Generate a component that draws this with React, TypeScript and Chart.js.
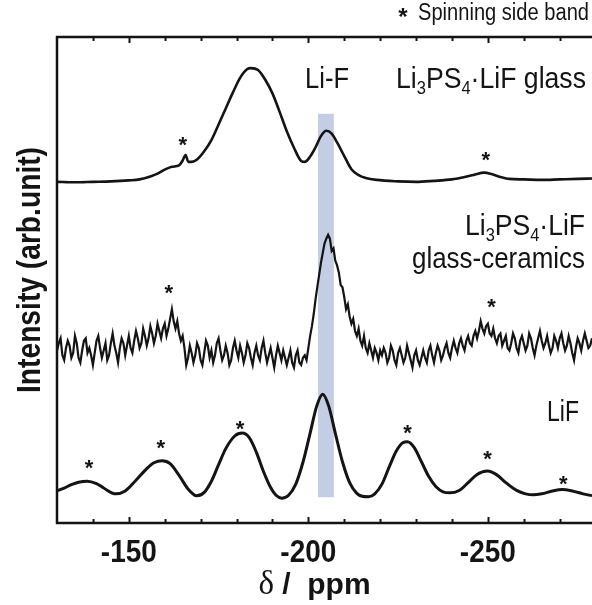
import React, { useEffect, useRef } from "react";
import { Chart, registerables } from "chart.js";

Chart.register(...registerables);

// ---------- axis ----------
const xLeftPpm = -130;
const xRightPpm = -279;
const tickPpm = [-140, -150, -160, -170, -180, -190, -200, -210, -220, -230, -240, -250, -260, -270];
const majorTickPpm = [-150, -200, -250];
const majorTickLabels = ["-150", "-200", "-250"];

// ---------- Li3PS4·LiF glass (top trace) ----------
const glassPpm = [
  -130, -135, -140, -145, -150, -153, -156, -158, -160, -162,
  -164, -165, -165.8, -166.6, -168, -169, -171, -173, -175, -177,
  -179, -181, -183, -184, -186, -188, -190, -192, -194, -196,
  -198, -199, -200.5, -202, -203.5, -205, -206.5, -208, -210, -212,
  -214, -216, -219, -225, -230, -235, -240, -243, -246, -249,
  -251, -253, -256, -260, -265, -270, -275, -279,
];
const glassIntensity = [
  70.2, 70.1, 70.2, 70.3, 70.5, 70.7, 71.3, 71.9, 72.7, 73.3,
  73.6, 74.6, 75.7, 74.3, 74.4, 74.8, 76.5, 78.8, 82.0, 85.3,
  88.6, 91.6, 93.4, 93.6, 93.2, 91.2, 88.4, 84.6, 80.6, 77.2,
  74.5, 74.3, 75.4, 77.3, 79.6, 80.7, 80.1, 78.3, 75.5, 72.8,
  71.6, 71.0, 70.6, 70.3, 70.2, 70.4, 70.7, 71.1, 71.6, 72.1,
  71.8, 71.3, 70.8, 70.7, 70.6, 70.7, 70.8, 70.9,
];

// ---------- Li3PS4·LiF glass-ceramics (middle trace), sampled every 0.5 ppm from -130 ----------
const ceramicsStartPpm = -130;
const ceramicsStepPpm = -0.5;
const ceramicsIntensity = [
  35.5, 37.0, 38.0, 34.5, 33.5, 36.0, 37.5, 36.5, 34.0, 35.0,
  38.5, 37.0, 34.0, 33.0, 35.5, 37.5, 38.0, 35.0, 36.0, 34.5,
  32.5, 35.0, 37.5, 38.5, 36.0, 34.0, 35.5, 37.0, 33.5, 34.5,
  37.0, 39.0, 36.5, 35.0, 33.0, 36.0, 38.0, 37.0, 34.5, 36.5,
  38.5, 36.0, 35.0, 37.5, 39.5, 38.0, 36.0, 37.0, 40.0, 38.5,
  36.5, 38.0, 40.5, 39.0, 37.0, 38.5, 41.0, 39.5, 38.0, 40.0,
  41.0, 38.5, 40.0, 42.0, 44.0, 41.5, 40.0, 41.5, 39.0, 37.5, 38.5, 36.0,
  32.5, 34.0, 36.5, 35.0, 33.0, 34.5, 37.0, 36.0, 33.5, 32.5,
  35.0, 37.5, 36.5, 34.0, 35.5, 33.0, 34.5, 37.0, 38.0, 35.5,
  33.5, 34.5, 36.5, 35.0, 32.5, 33.5, 36.0, 37.5, 35.5, 34.0,
  36.5, 35.0, 33.0, 34.5, 37.0, 36.0, 34.0, 32.5, 35.0, 36.5,
  34.5, 33.5, 36.0, 37.5, 35.0, 33.0, 34.5, 36.0, 34.0, 32.0,
  34.5, 36.5, 35.0, 33.5, 35.5, 34.0, 32.5, 34.0, 35.5, 33.0,
  32.0, 34.5, 35.5, 33.0, 32.5, 34.0,
  34.5, 33.5, 36.0, 38.5, 40.5, 43.0, 46.0, 48.6, 51.0, 53.5,
  55.5, 57.5, 58.5, 59.3, 58.5, 56.0, 56.5, 54.0, 53.0, 51.5,
  49.0, 48.5, 46.5, 44.0, 45.0, 42.5, 41.0, 42.0, 39.5, 38.5,
  40.0, 37.5, 36.5, 38.5, 36.0, 35.0, 37.0, 35.5, 34.0, 36.0,
  35.0, 33.5, 35.5,
  34.5, 36.0, 35.0, 33.0, 34.0, 36.5, 35.5, 33.5, 32.5, 35.0,
  36.0, 34.5, 33.0, 34.0, 36.5, 35.0, 33.5, 32.0, 34.5, 35.5,
  33.5, 32.5, 34.0, 35.5, 34.0, 33.0, 35.5, 36.5, 34.5, 33.0,
  35.0, 36.5, 35.5, 33.5, 34.5, 36.0, 37.0, 35.0, 34.0, 36.0,
  37.5, 36.0, 35.0, 37.0, 38.0, 36.5, 35.5, 37.5, 38.5, 37.0,
  36.5, 38.5, 39.5, 38.0,
  39.5, 41.5, 40.0, 39.0, 40.5, 41.0, 39.0, 38.5, 40.0, 38.0, 37.0, 38.5, 39.0, 36.5,
  37.5, 38.5, 36.0, 35.5, 37.0, 39.0, 38.0, 36.0, 35.0, 37.5,
  38.5, 37.0, 35.5, 36.5, 39.0, 38.0, 36.0, 34.5, 36.5, 38.0,
  39.5, 37.5, 36.0, 37.0, 38.5, 36.5, 35.0, 36.0, 38.5, 37.5,
  36.0, 38.0, 39.0, 37.0, 35.5, 36.5, 38.5, 37.0, 35.0, 33.5,
  36.0, 38.0, 37.0, 35.5, 37.5, 39.0, 37.5, 36.0, 36.5, 38.0,
];

// ---------- LiF (bottom trace) ----------
const lifPpm = [
  -130, -132, -134, -136, -138.4, -141, -143, -146.3, -149, -152,
  -155, -157, -159.3, -161.5, -164, -166.5, -168.9, -171, -173, -175,
  -177, -179.5, -181.6, -183.5, -185.5, -187.5, -189.5, -191, -192.6, -194.5,
  -196.5, -198.5, -200.5, -202.3, -204, -205.7, -207.5, -209.5, -211.5, -213.5,
  -215, -216.8, -218.5, -220.5, -222.5, -224.5, -226.3, -227.6, -229.5, -231.5,
  -233.5, -235.5, -237.5, -239.4, -242, -244.5, -247, -249.9, -252.5, -255,
  -258, -260.5, -262.6, -265, -268, -270.7, -273.5, -276.5, -279,
];
const lifIntensity = [
  6.6, 7.2, 7.9, 8.4, 8.6, 8.1, 7.2, 6.0, 6.6, 8.8,
  11.2, 12.4, 12.8, 12.2, 9.8, 7.0, 5.6, 6.3, 8.6, 12.0,
  15.3, 17.9, 18.5, 17.6, 14.6, 10.6, 7.3, 5.7, 5.1, 5.7,
  8.0, 12.5, 18.5, 24.0, 26.5, 24.0, 18.5, 12.6, 8.3, 6.1,
  5.5, 5.4, 6.0, 8.0, 11.5, 14.8, 16.5, 16.7, 15.5, 12.6,
  9.6, 7.5, 6.4, 6.2, 6.7, 8.3, 10.0, 10.7, 9.9, 8.3,
  6.7, 6.0, 5.8, 6.0, 6.6, 6.9, 6.6, 6.0, 5.6,
];

// ---------- highlighted Li-F band ----------
const bandPpm = [-202.7, -207.1];
const bandIntensity = [5.3, 84.2];

// ---------- spinning side band markers ----------
const starPpm = [-165.0, -249.4, -161.1, -251.0, -138.9, -158.9, -181.0, -227.6, -249.9, -271.0];
const starIntensity = [78.8, 75.7, 48.3, 45.5, 12.3, 16.5, 20.4, 19.5, 14.3, 9.1];

const INK = "#141414";
const SANS = '"Liberation Sans", Arial, "DejaVu Sans", sans-serif';
const SERIF = '"Liberation Serif", "DejaVu Serif", serif';

function toPoints(xs: number[], ys: number[]) {
  return xs.map((x, i) => ({ x, y: ys[i] }));
}

type Part = [string, boolean];

// draws text (with optional subscripts) horizontally squeezed to a target width
function drawFit(
  ctx: CanvasRenderingContext2D,
  parts: Part[],
  xRight: number,
  yBase: number,
  size: number,
  weight: string,
  targetWidth: number
) {
  const subSize = size * 0.62;
  const fontFor = (sub: boolean) => `${weight} ${sub ? subSize : size}px ${SANS}`;
  const widths = parts.map(([t, sub]) => {
    ctx.font = fontFor(sub);
    return ctx.measureText(t).width;
  });
  const natural = widths.reduce((a, b) => a + b, 0);
  const sx = targetWidth / natural;
  ctx.save();
  ctx.translate(xRight - targetWidth, yBase);
  ctx.scale(sx, 1);
  ctx.textAlign = "left";
  ctx.textBaseline = "alphabetic";
  let x = 0;
  parts.forEach(([t, sub], i) => {
    ctx.font = fontFor(sub);
    ctx.fillText(t, x, sub ? size * 0.2 : 0);
    x += widths[i];
  });
  ctx.restore();
}

const overlayPlugin = {
  id: "overlay",
  beforeDatasetsDraw(chart: any) {
    const { ctx, scales } = chart;
    const x = scales.x, y = scales.y;
    const x0 = x.getPixelForValue(bandPpm[0]);
    const x1 = x.getPixelForValue(bandPpm[1]);
    const y0 = y.getPixelForValue(bandIntensity[0]);
    const y1 = y.getPixelForValue(bandIntensity[1]);
    ctx.save();
    ctx.fillStyle = "#c3cee4";
    ctx.fillRect(Math.min(x0, x1), Math.min(y0, y1), Math.abs(x1 - x0), Math.abs(y1 - y0));
    ctx.restore();
  },
  afterDatasetsDraw(chart: any) {
    const { ctx, scales, chartArea } = chart;
    const x = scales.x, y = scales.y;
    const { left, right, top, bottom } = chartArea;
    ctx.save();
    ctx.strokeStyle = INK;
    ctx.fillStyle = INK;
    // frame
    ctx.lineWidth = 2.5;
    ctx.beginPath();
    ctx.moveTo(right + 2, top);
    ctx.lineTo(left, top);
    ctx.lineTo(left, bottom);
    ctx.lineTo(right + 2, bottom);
    ctx.stroke();
    // ticks (inward, bottom and top)
    ctx.lineWidth = 2;
    tickPpm.forEach((v) => {
      const px = Math.round(x.getPixelForValue(v)) + 0.5;
      const len = majorTickPpm.includes(v) ? 6 : 4;
      ctx.beginPath();
      ctx.moveTo(px, bottom);
      ctx.lineTo(px, bottom - len);
      ctx.moveTo(px, top);
      ctx.lineTo(px, top + len);
      ctx.stroke();
    });
    // tick labels
    majorTickPpm.forEach((v, i) => {
      const cx = x.getPixelForValue(v);
      drawFit(ctx, [[majorTickLabels[i], false]], cx + 28, bottom + 39, 31, "bold", 56);
    });
    // x title
    ctx.textAlign = "left";
    ctx.textBaseline = "alphabetic";
    ctx.font = `33px ${SERIF}`;
    const dW = ctx.measureText("δ").width;
    ctx.font = `bold 30px ${SANS}`;
    const restW = ctx.measureText(" /  ppm").width;
    const xStart = (left + right) / 2 - (dW + restW) / 2 - 10;
    ctx.font = `33px ${SERIF}`;
    ctx.fillText("δ", xStart, bottom + 71);
    ctx.font = `bold 30px ${SANS}`;
    ctx.fillText(" /  ppm", xStart + dW, bottom + 71);
    // y title
    ctx.save();
    ctx.translate(40, 270);
    ctx.rotate(-Math.PI / 2);
    drawFit(ctx, [["Intensity (arb.unit)", false]], 123, 0, 33, "bold", 246);
    ctx.restore();
    // stars
    ctx.font = `bold 22px ${SANS}`;
    ctx.textAlign = "center";
    ctx.textBaseline = "alphabetic";
    starPpm.forEach((v, i) => {
      const px = x.getPixelForValue(v);
      const py = y.getPixelForValue(starIntensity[i]);
      ctx.fillText("*", px, py + 12);
    });
    // legend note
    ctx.font = `bold 24px ${SANS}`;
    ctx.fillText("*", 403, 25);
    drawFit(ctx, [["Spinning side band", false]], 589, 20, 23, "normal", 171);
    // labels
    drawFit(ctx, [["Li-F", false]], 349, 88, 29, "normal", 44);
    drawFit(ctx, [["Li", false], ["3", true], ["PS", false], ["4", true], ["·LiF glass", false]], 586, 88, 29, "normal", 190);
    drawFit(ctx, [["Li", false], ["3", true], ["PS", false], ["4", true], ["·LiF", false]], 585, 235, 29, "normal", 120);
    drawFit(ctx, [["glass-ceramics", false]], 585, 268, 29, "normal", 173);
    drawFit(ctx, [["LiF", false]], 579, 421, 29, "normal", 32);
    ctx.restore();
  },
};

export default function App() {
  const canvasRef = useRef<HTMLCanvasElement | null>(null);

  useEffect(() => {
    document.body.style.margin = "0";
    const canvas = canvasRef.current;
    if (!canvas) return;
    const ceramicsPoints = ceramicsIntensity.map((v, i) => ({ x: ceramicsStartPpm + ceramicsStepPpm * i, y: v }));
    const chart = new Chart(canvas, {
      type: "line",
      data: {
        datasets: [
          {
            label: "Li3PS4·LiF glass",
            data: toPoints(glassPpm, glassIntensity),
            borderColor: INK,
            borderWidth: 2.6,
            pointRadius: 0,
            cubicInterpolationMode: "monotone",
            fill: false,
          },
          {
            label: "Li3PS4·LiF glass-ceramics",
            data: ceramicsPoints,
            borderColor: INK,
            borderWidth: 2.2,
            pointRadius: 0,
            tension: 0,
            fill: false,
          },
          {
            label: "LiF",
            data: toPoints(lifPpm, lifIntensity),
            borderColor: INK,
            borderWidth: 3,
            pointRadius: 0,
            cubicInterpolationMode: "monotone",
            fill: false,
          },
        ],
      },
      options: {
        responsive: false,
        animation: false,
        events: [],
        layout: { padding: { left: 57, top: 37, right: 0, bottom: 82 } },
        plugins: { legend: { display: false }, tooltip: { enabled: false }, title: { display: false } },
        scales: {
          x: { type: "linear", min: xRightPpm, max: xLeftPpm, reverse: true, display: false },
          y: { type: "linear", min: 0, max: 100, display: false },
        },
      },
      plugins: [overlayPlugin],
    });
    return () => chart.destroy();
  }, []);

  return (
    <div style={{ width: 592, height: 605 }}>
      <canvas ref={canvasRef} width={592} height={605} style={{ display: "block" }} />
    </div>
  );
}
